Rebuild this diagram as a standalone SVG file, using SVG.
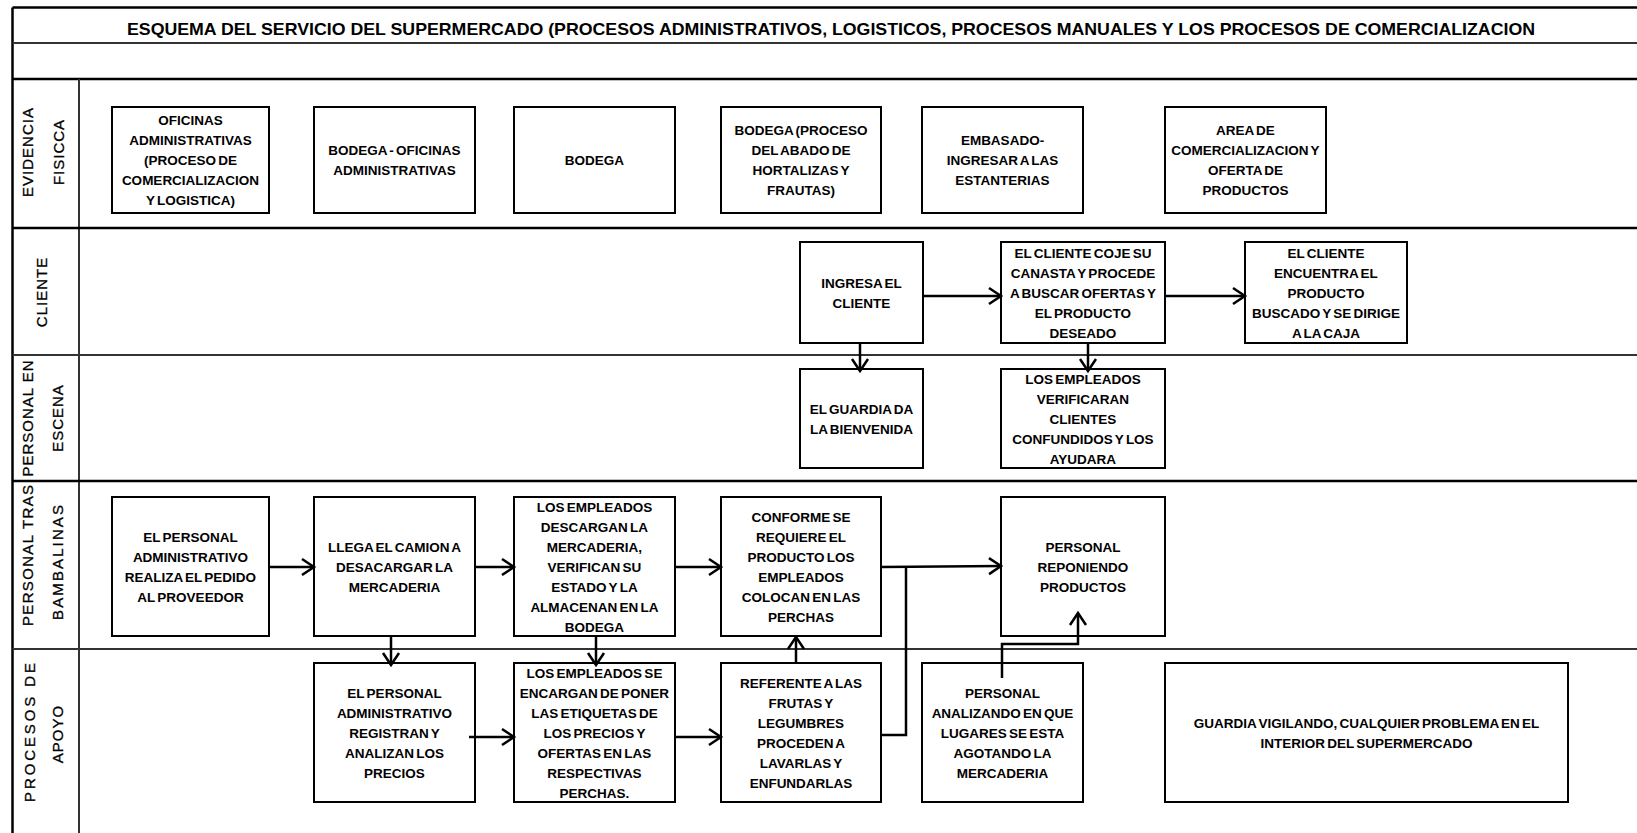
<svg xmlns="http://www.w3.org/2000/svg" width="1637" height="833" viewBox="0 0 1637 833">
<style>
.frame{stroke:#000;stroke-width:2.5;fill:none}
.thin{stroke:#333;stroke-width:2;fill:none}
.box{fill:#fff;stroke:#000;stroke-width:2}
.bt{font-family:"Liberation Sans",Arial,sans-serif;font-weight:bold;font-size:13.5px;word-spacing:-1.5px;text-anchor:middle;fill:#000}
.lane{font-family:"Liberation Sans",Arial,sans-serif;font-size:15px;letter-spacing:1px;text-anchor:middle;fill:#000;stroke:#000;stroke-width:0.3}
.title{font-family:"Liberation Sans",Arial,sans-serif;font-weight:bold;font-size:16.5px;text-anchor:middle;fill:#000}
.cn{stroke:#000;stroke-width:2.5;fill:none}
</style>
<defs>
<marker id="ah" markerUnits="userSpaceOnUse" markerWidth="16" markerHeight="20" refX="12" refY="8" orient="auto" overflow="visible">
<path d="M0,0 L12,8 L0,16" fill="none" stroke="#000" stroke-width="2.5"/>
</marker>
</defs>
<rect width="1637" height="833" fill="#fff"/>
<g id="frame">
<line class="frame" x1="12.5" y1="7.5" x2="1637" y2="7.5"/>
<line class="frame" x1="12.5" y1="7.5" x2="12.5" y2="833"/>
<line class="thin" x1="12.5" y1="43" x2="1637" y2="43"/>
<line class="frame" x1="12.5" y1="79" x2="1637" y2="79"/>
<line class="thin" x1="79" y1="79" x2="79" y2="833"/>
<line class="frame" x1="12.5" y1="228" x2="1637" y2="228"/>
<line class="thin" x1="12.5" y1="355" x2="1637" y2="355"/>
<line class="frame" x1="12.5" y1="481" x2="1637" y2="481"/>
<line class="thin" x1="12.5" y1="649" x2="1637" y2="649"/>
<text class="title" x="831" y="35" textLength="1408" lengthAdjust="spacingAndGlyphs">ESQUEMA DEL SERVICIO DEL SUPERMERCADO (PROCESOS ADMINISTRATIVOS, LOGISTICOS, PROCESOS MANUALES Y LOS PROCESOS DE COMERCIALIZACION</text>
</g>
<g id="lanes">
<text class="lane" transform="translate(33,152) rotate(-90)">EVIDENCIA</text>
<text class="lane" transform="translate(64,152) rotate(-90)">FISICCA</text>
<text class="lane" transform="translate(47,292) rotate(-90)">CLIENTE</text>
<text class="lane" transform="translate(33,418) rotate(-90)">PERSONAL EN</text>
<text class="lane" transform="translate(63,418) rotate(-90)">ESCENA</text>
<text class="lane" transform="translate(33,555) rotate(-90)" textLength="142">PERSONAL TRAS</text>
<text class="lane" transform="translate(63,562) rotate(-90)" textLength="116">BAMBALINAS</text>
<text class="lane" transform="translate(35,732) rotate(-90)" textLength="140">PROCESOS DE</text>
<text class="lane" transform="translate(63,734) rotate(-90)">APOYO</text>
</g>
<g id="ev1"><rect class="box" x="112" y="107" width="157" height="106"/><text class="bt" y="125"><tspan x="190.5">OFICINAS</tspan><tspan x="190.5" dy="20">ADMINISTRATIVAS</tspan><tspan x="190.5" dy="20">(PROCESO DE</tspan><tspan x="190.5" dy="20">COMERCIALIZACION</tspan><tspan x="190.5" dy="20">Y LOGISTICA)</tspan></text></g>
<g id="ev2"><rect class="box" x="314" y="107" width="161" height="106"/><text class="bt" y="155"><tspan x="394.5">BODEGA - OFICINAS</tspan><tspan x="394.5" dy="20">ADMINISTRATIVAS</tspan></text></g>
<g id="ev3"><rect class="box" x="514" y="107" width="161" height="106"/><text class="bt" y="165"><tspan x="594.5">BODEGA</tspan></text></g>
<g id="ev4"><rect class="box" x="721" y="107" width="160" height="106"/><text class="bt" y="135"><tspan x="801">BODEGA (PROCESO</tspan><tspan x="801" dy="20">DEL ABADO DE</tspan><tspan x="801" dy="20">HORTALIZAS Y</tspan><tspan x="801" dy="20">FRAUTAS)</tspan></text></g>
<g id="ev5"><rect class="box" x="922" y="107" width="161" height="106"/><text class="bt" y="145"><tspan x="1002.5">EMBASADO-</tspan><tspan x="1002.5" dy="20">INGRESAR A LAS</tspan><tspan x="1002.5" dy="20">ESTANTERIAS</tspan></text></g>
<g id="ev6"><rect class="box" x="1165" y="107" width="161" height="106"/><text class="bt" y="135"><tspan x="1245.5">AREA DE</tspan><tspan x="1245.5" dy="20">COMERCIALIZACION Y</tspan><tspan x="1245.5" dy="20">OFERTA DE</tspan><tspan x="1245.5" dy="20">PRODUCTOS</tspan></text></g>
<g id="cl1"><rect class="box" x="800" y="242" width="123" height="101"/><text class="bt" y="287.5"><tspan x="861.5">INGRESA EL</tspan><tspan x="861.5" dy="20">CLIENTE</tspan></text></g>
<g id="cl2"><rect class="box" x="1001" y="242" width="164" height="101"/><text class="bt" y="257.5"><tspan x="1083">EL CLIENTE COJE SU</tspan><tspan x="1083" dy="20">CANASTA Y PROCEDE</tspan><tspan x="1083" dy="20">A BUSCAR OFERTAS Y</tspan><tspan x="1083" dy="20">EL PRODUCTO</tspan><tspan x="1083" dy="20">DESEADO</tspan></text></g>
<g id="cl3"><rect class="box" x="1245" y="242" width="162" height="101"/><text class="bt" y="257.5"><tspan x="1326">EL CLIENTE</tspan><tspan x="1326" dy="20">ENCUENTRA EL</tspan><tspan x="1326" dy="20">PRODUCTO</tspan><tspan x="1326" dy="20">BUSCADO Y SE DIRIGE</tspan><tspan x="1326" dy="20">A LA CAJA</tspan></text></g>
<g id="es1"><rect class="box" x="800" y="369" width="123" height="99"/><text class="bt" y="413.5"><tspan x="861.5">EL GUARDIA DA</tspan><tspan x="861.5" dy="20">LA BIENVENIDA</tspan></text></g>
<g id="es2"><rect class="box" x="1001" y="369" width="164" height="99"/><text class="bt" y="383.5"><tspan x="1083">LOS EMPLEADOS</tspan><tspan x="1083" dy="20">VERIFICARAN</tspan><tspan x="1083" dy="20">CLIENTES</tspan><tspan x="1083" dy="20">CONFUNDIDOS Y LOS</tspan><tspan x="1083" dy="20">AYUDARA</tspan></text></g>
<g id="tb1"><rect class="box" x="112" y="497" width="157" height="139"/><text class="bt" y="541.5"><tspan x="190.5">EL PERSONAL</tspan><tspan x="190.5" dy="20">ADMINISTRATIVO</tspan><tspan x="190.5" dy="20">REALIZA EL PEDIDO</tspan><tspan x="190.5" dy="20">AL PROVEEDOR</tspan></text></g>
<g id="tb2"><rect class="box" x="314" y="497" width="161" height="139"/><text class="bt" y="551.5"><tspan x="394.5">LLEGA EL CAMION A</tspan><tspan x="394.5" dy="20">DESACARGAR LA</tspan><tspan x="394.5" dy="20">MERCADERIA</tspan></text></g>
<g id="tb3"><rect class="box" x="514" y="497" width="161" height="139"/><text class="bt" y="511.5"><tspan x="594.5">LOS EMPLEADOS</tspan><tspan x="594.5" dy="20">DESCARGAN LA</tspan><tspan x="594.5" dy="20">MERCADERIA,</tspan><tspan x="594.5" dy="20">VERIFICAN SU</tspan><tspan x="594.5" dy="20">ESTADO Y LA</tspan><tspan x="594.5" dy="20">ALMACENAN EN LA</tspan><tspan x="594.5" dy="20">BODEGA</tspan></text></g>
<g id="tb4"><rect class="box" x="721" y="497" width="160" height="139"/><text class="bt" y="521.5"><tspan x="801">CONFORME SE</tspan><tspan x="801" dy="20">REQUIERE EL</tspan><tspan x="801" dy="20">PRODUCTO LOS</tspan><tspan x="801" dy="20">EMPLEADOS</tspan><tspan x="801" dy="20">COLOCAN EN LAS</tspan><tspan x="801" dy="20">PERCHAS</tspan></text></g>
<g id="tb5"><rect class="box" x="1001" y="497" width="164" height="139"/><text class="bt" y="551.5"><tspan x="1083">PERSONAL</tspan><tspan x="1083" dy="20">REPONIENDO</tspan><tspan x="1083" dy="20">PRODUCTOS</tspan></text></g>
<g id="ap1"><rect class="box" x="314" y="663" width="161" height="139"/><text class="bt" y="697.5"><tspan x="394.5">EL PERSONAL</tspan><tspan x="394.5" dy="20">ADMINISTRATIVO</tspan><tspan x="394.5" dy="20">REGISTRAN Y</tspan><tspan x="394.5" dy="20">ANALIZAN LOS</tspan><tspan x="394.5" dy="20">PRECIOS</tspan></text></g>
<g id="ap2"><rect class="box" x="514" y="663" width="161" height="139"/><text class="bt" y="677.5"><tspan x="594.5">LOS EMPLEADOS SE</tspan><tspan x="594.5" dy="20">ENCARGAN DE PONER</tspan><tspan x="594.5" dy="20">LAS ETIQUETAS DE</tspan><tspan x="594.5" dy="20">LOS PRECIOS Y</tspan><tspan x="594.5" dy="20">OFERTAS EN LAS</tspan><tspan x="594.5" dy="20">RESPECTIVAS</tspan><tspan x="594.5" dy="20">PERCHAS.</tspan></text></g>
<g id="ap3"><rect class="box" x="721" y="663" width="160" height="139"/><text class="bt" y="687.5"><tspan x="801">REFERENTE A LAS</tspan><tspan x="801" dy="20">FRUTAS Y</tspan><tspan x="801" dy="20">LEGUMBRES</tspan><tspan x="801" dy="20">PROCEDEN A</tspan><tspan x="801" dy="20">LAVARLAS Y</tspan><tspan x="801" dy="20">ENFUNDARLAS</tspan></text></g>
<g id="ap4"><rect class="box" x="922" y="663" width="161" height="139"/><text class="bt" y="697.5"><tspan x="1002.5">PERSONAL</tspan><tspan x="1002.5" dy="20">ANALIZANDO EN QUE</tspan><tspan x="1002.5" dy="20">LUGARES SE ESTA</tspan><tspan x="1002.5" dy="20">AGOTANDO LA</tspan><tspan x="1002.5" dy="20">MERCADERIA</tspan></text></g>
<g id="ap5"><rect class="box" x="1165" y="663" width="403" height="139"/><text class="bt" y="727.5"><tspan x="1366.5">GUARDIA VIGILANDO, CUALQUIER PROBLEMA EN EL</tspan><tspan x="1366.5" dy="20">INTERIOR DEL SUPERMERCADO</tspan></text></g>
<g id="connectors">
<line class="cn" x1="923" y1="296" x2="1001" y2="296" marker-end="url(#ah)"/>
<line class="cn" x1="1165" y1="296" x2="1245" y2="296" marker-end="url(#ah)"/>
<line class="cn" x1="860" y1="343" x2="860" y2="371" marker-end="url(#ah)"/>
<line class="cn" x1="1088" y1="343" x2="1088" y2="371" marker-end="url(#ah)"/>
<line class="cn" x1="269" y1="567" x2="314" y2="567" marker-end="url(#ah)"/>
<line class="cn" x1="475" y1="567" x2="514" y2="567" marker-end="url(#ah)"/>
<line class="cn" x1="675" y1="567" x2="721" y2="567" marker-end="url(#ah)"/>
<line class="cn" x1="881" y1="567" x2="1001" y2="566" marker-end="url(#ah)"/>
<polyline class="cn" points="881,735 906,735 906,566"/>
<line class="cn" x1="391" y1="636" x2="391" y2="665" marker-end="url(#ah)"/>
<line class="cn" x1="596" y1="636" x2="596" y2="665" marker-end="url(#ah)"/>
<line class="cn" x1="796" y1="663" x2="796" y2="637" marker-end="url(#ah)"/>
<line class="cn" x1="469" y1="737" x2="514" y2="737" marker-end="url(#ah)"/>
<line class="cn" x1="675" y1="737" x2="721" y2="737" marker-end="url(#ah)"/>
<polyline class="cn" points="1002,678 1002,644 1078,644 1078,613" marker-end="url(#ah)"/>
</g>
</svg>
